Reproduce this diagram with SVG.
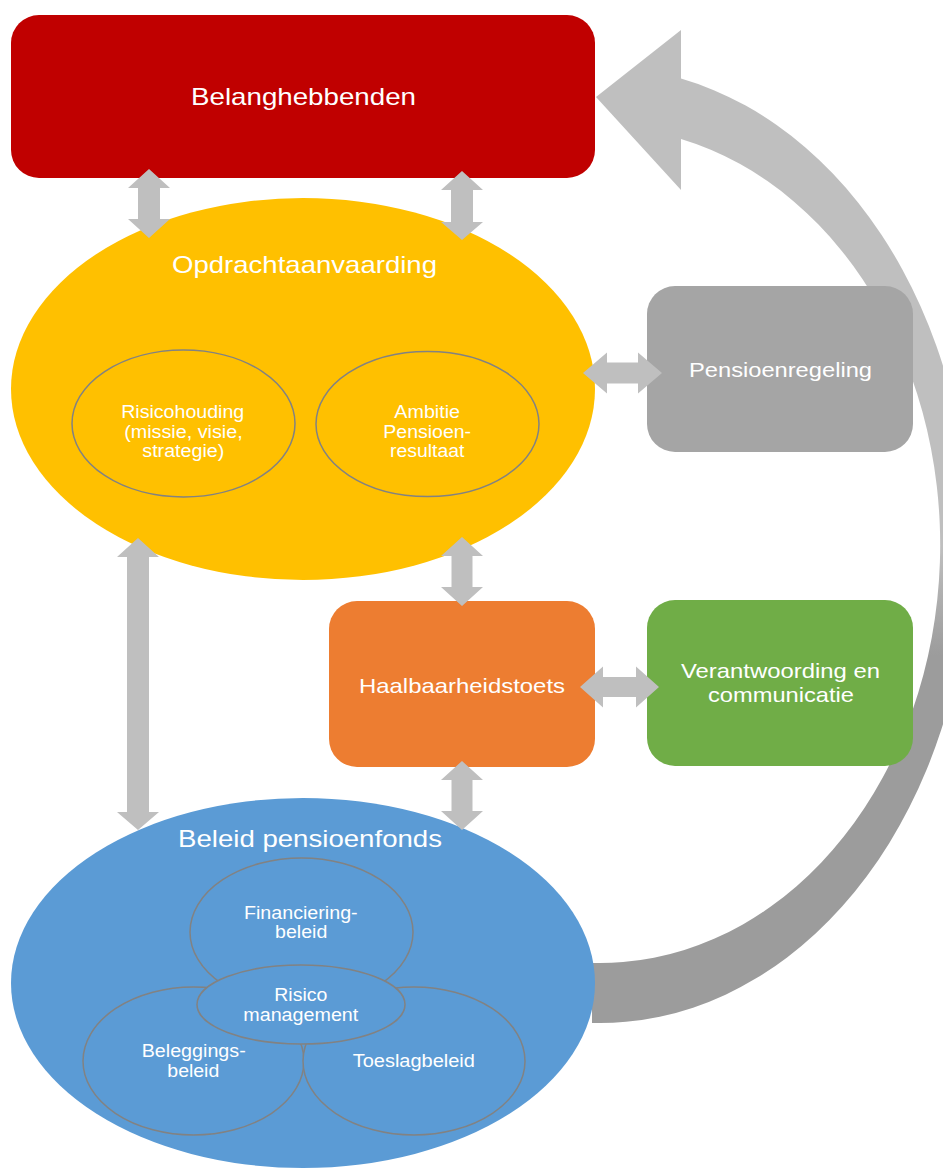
<svg xmlns="http://www.w3.org/2000/svg" width="943" height="1168" viewBox="0 0 943 1168">
  <defs>
    <linearGradient id="cycleGrad" gradientUnits="userSpaceOnUse" x1="0" y1="30" x2="0" y2="1023">
      <stop offset="0" stop-color="#bfbfbf"/>
      <stop offset="0.52" stop-color="#bfbfbf"/>
      <stop offset="0.63" stop-color="#9c9c9c"/>
      <stop offset="1" stop-color="#9c9c9c"/>
    </linearGradient>
    <style>
      .t { font-family: "Liberation Sans", Arial, sans-serif; fill: #ffffff; text-anchor: middle; }
      .big { font-size: 24px; }
      .mid { font-size: 21px; }
      .small { font-size: 17.5px; }
      .inner { stroke: #828282; stroke-width: 1.5; }
      .dbl { fill: #bfbfbf; }
    </style>
  </defs>
  <rect width="943" height="1168" fill="#ffffff"/>

  <!-- big cycle arrow (behind nodes) -->
  <g id="cycle-connector">
    <path fill="url(#cycleGrad)" d="M596,97 L681,30 L681,78.6 A370,478 0 0 1 592,1022.9 L592,962.9 A340,418 0 0 0 681,139 L681,190 Z"/>
  </g>

  <g id="belanghebbenden">
    <rect x="11" y="15" width="584" height="163" rx="28" fill="#c00000"/>
    <text class="t big" x="303.5" y="105" textLength="225" lengthAdjust="spacingAndGlyphs">Belanghebbenden</text>
  </g>

  <g id="opdrachtaanvaarding">
    <ellipse cx="303" cy="389" rx="292" ry="191" fill="#ffc000"/>
    <text class="t big" x="304.5" y="273" textLength="265" lengthAdjust="spacingAndGlyphs">Opdrachtaanvaarding</text>
  </g>
  <g id="risicohouding">
    <ellipse class="inner" cx="183.5" cy="423.5" rx="111.5" ry="73.5" fill="#ffc000"/>
    <text class="t small" x="182.7" y="418" textLength="123" lengthAdjust="spacingAndGlyphs">Risicohouding</text>
    <text class="t small" x="183.4" y="437.5" textLength="118.5" lengthAdjust="spacingAndGlyphs">(missie, visie,</text>
    <text class="t small" x="183.3" y="456.7" textLength="82" lengthAdjust="spacingAndGlyphs">strategie)</text>
  </g>
  <g id="ambitie">
    <ellipse class="inner" cx="427.5" cy="424" rx="111.5" ry="72.5" fill="#ffc000"/>
    <text class="t small" x="427.2" y="418" textLength="65.7" lengthAdjust="spacingAndGlyphs">Ambitie</text>
    <text class="t small" x="427.2" y="437.5" textLength="87.7" lengthAdjust="spacingAndGlyphs">Pensioen-</text>
    <text class="t small" x="427.2" y="456.7" textLength="74.3" lengthAdjust="spacingAndGlyphs">resultaat</text>
  </g>

  <g id="pensioenregeling">
    <rect x="647" y="286" width="266" height="166" rx="28" fill="#a5a5a5"/>
    <text class="t mid" x="780.5" y="377" textLength="183" lengthAdjust="spacingAndGlyphs">Pensioenregeling</text>
  </g>

  <g id="haalbaarheidstoets">
    <rect x="329" y="601" width="266" height="166" rx="28" fill="#ed7d31"/>
    <text class="t mid" x="462" y="693" textLength="206" lengthAdjust="spacingAndGlyphs">Haalbaarheidstoets</text>
  </g>

  <g id="verantwoording">
    <rect x="647" y="600" width="266" height="166" rx="28" fill="#70ad47"/>
    <text class="t mid" x="780.5" y="678" textLength="199" lengthAdjust="spacingAndGlyphs">Verantwoording en</text>
    <text class="t mid" x="781" y="702" textLength="146" lengthAdjust="spacingAndGlyphs">communicatie</text>
  </g>

  <g id="beleid-pensioenfonds">
    <ellipse cx="303" cy="983" rx="292" ry="185" fill="#5b9bd5"/>
    <text class="t big" x="310" y="847" textLength="264" lengthAdjust="spacingAndGlyphs">Beleid pensioenfonds</text>
  </g>
  <g id="financieringbeleid">
    <ellipse class="inner" cx="301.5" cy="932" rx="111.5" ry="74" fill="#5b9bd5"/>
    <text class="t small" x="300.8" y="919.3" textLength="113.7" lengthAdjust="spacingAndGlyphs">Financiering-</text>
    <text class="t small" x="301.2" y="938.3" textLength="52.3" lengthAdjust="spacingAndGlyphs">beleid</text>
  </g>
  <g id="beleggingsbeleid">
    <ellipse class="inner" cx="193.5" cy="1061" rx="110.5" ry="74" fill="#5b9bd5"/>
    <text class="t small" x="193.7" y="1056.7" textLength="104" lengthAdjust="spacingAndGlyphs">Beleggings-</text>
    <text class="t small" x="193.3" y="1076.7" textLength="52" lengthAdjust="spacingAndGlyphs">beleid</text>
  </g>
  <g id="toeslagbeleid">
    <ellipse class="inner" cx="414" cy="1061" rx="111" ry="74" fill="#5b9bd5"/>
    <text class="t small" x="413.8" y="1066.7" textLength="122.3" lengthAdjust="spacingAndGlyphs">Toeslagbeleid</text>
  </g>
  <g id="risicomanagement">
    <ellipse class="inner" cx="301" cy="1004.5" rx="104" ry="39.5" fill="#5b9bd5"/>
    <text class="t small" x="300.8" y="1000.7" textLength="53" lengthAdjust="spacingAndGlyphs">Risico</text>
    <text class="t small" x="300.8" y="1020.7" textLength="115" lengthAdjust="spacingAndGlyphs">management</text>
  </g>

  <!-- double-headed connectors -->
  <g id="connectors">
    <polygon class="dbl" points="149,169 170,188 160,188 160,219 170,219 149,238 128,219 138,219 138,188 128,188"/>
    <polygon class="dbl" points="462,171 483,190 473,190 473,222 483,222 462,240 441,222 451,222 451,190 441,190"/>
    <polygon class="dbl" points="138,538 159,557 149,557 149,812 159,812 138,830 117,812 127,812 127,557 117,557"/>
    <polygon class="dbl" points="462,537 483,556 472.5,556 472.5,587 483,587 462,606 441,587 451.5,587 451.5,556 441,556"/>
    <polygon class="dbl" points="462,761 483,780 472.5,780 472.5,811 483,811 462,830 441,811 451.5,811 451.5,780 441,780"/>
    <polygon class="dbl" points="583,373 607,352.5 607,362.5 638,362.5 638,352.5 662,373 638,393.5 638,383.5 607,383.5 607,393.5"/>
    <polygon class="dbl" points="580,687 603,666.5 603,677 636,677 636,666.5 659,687 636,707.5 636,697 603,697 603,707.5"/>
  </g>
</svg>
